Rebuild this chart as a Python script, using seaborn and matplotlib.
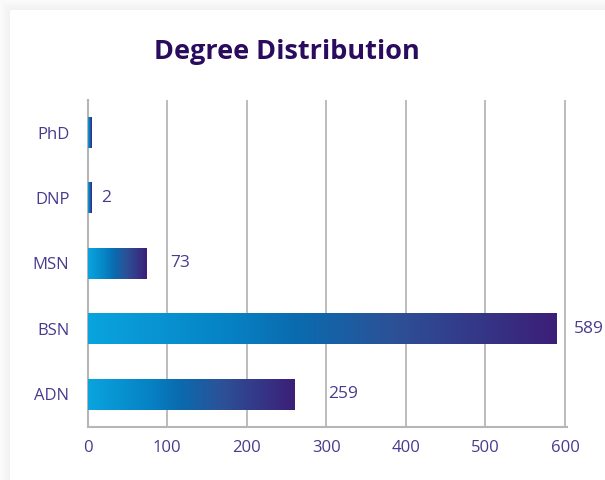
import numpy as np
import pandas as pd
import matplotlib
matplotlib.use('Agg')
import matplotlib.pyplot as plt
import seaborn as sns
from matplotlib.colors import LinearSegmentedColormap
from matplotlib.patches import Rectangle

# ---- data ----
categories = ['PhD', 'DNP', 'MSN', 'BSN', 'ADN']
counts = [1, 2, 73, 589, 259]
value_labels = ['', '2', '73', '589', '259']
x_ticks = [0, 100, 200, 300, 400, 500, 600]
title = 'Degree Distribution'

# ---- style ----
label_offsets_pt = [0, 8.5, 18, 13, 25]
text_color = '#4a3a8e'
grid_color = '#b6b6b6'
grad = LinearSegmentedColormap.from_list(
    'g', [(0.0, '#0aa4de'), (0.3, '#0682c4'), (0.45, '#0b6aae'),
          (0.65, '#2c5197'), (1.0, '#3c1f78')])

sns.set_theme(style='white')
plt.rcParams['font.family'] = ['Open Sans', 'DejaVu Sans']

W, H = 605, 480
fig = plt.figure(figsize=(W / 100, H / 100), dpi=100, facecolor='#fbfbfb')
# soft card shadow
for k in range(9, 0, -1):
    fig.patches.append(Rectangle(((10 - k) / W, 0), 1, (470 + k) / H,
                                 transform=fig.transFigure, facecolor='black',
                                 alpha=0.005, edgecolor='none', zorder=-2))
fig.patches.append(Rectangle((10 / W, 0), 1, 470 / H, transform=fig.transFigure,
                             facecolor='white', edgecolor='none', zorder=-1))

left, right, top, bottom = 87.5, 567.0, 100.0, 427.0
ax = fig.add_axes([left / W, 1 - bottom / H, (right - left) / W, (bottom - top) / H])
ax.set_zorder(5)
ax.patch.set_alpha(0)

df = pd.DataFrame({'Degree': categories, 'Count': counts})
sns.barplot(data=df, x='Count', y='Degree', orient='h', width=0.47,
            color='white', ax=ax, zorder=3)

xmax = 600 * (right - left) / (565.0 - left)
ax.set_xlim(0, xmax)
ax.set_ylim(4.5, -0.5)

g = np.linspace(0, 1, 256).reshape(1, -1)
for i, p in enumerate(list(ax.patches)):
    x0, y0 = p.get_x(), p.get_y()
    w, h = p.get_width(), p.get_height()
    p.set_visible(False)
    x1 = max(x0 + w, x0 + 4)
    ax.imshow(g, cmap=grad, aspect='auto', extent=[x0, x1, y0 + h, y0],
              zorder=3, interpolation='bilinear')
    if value_labels[i]:
        ax.annotate(value_labels[i], xy=(x0 + w, y0 + h / 2),
                    xytext=(label_offsets_pt[i], 0), textcoords='offset points',
                    ha='left', va='center', fontsize=12.5, color=text_color,
                    annotation_clip=False, zorder=4)

ax.set_xlim(0, xmax)
ax.set_ylim(4.5, -0.5)
ax.set_xticks(x_ticks)
ax.set_xticklabels([str(t) for t in x_ticks])
ax.set_xlabel('')
ax.set_ylabel('')
ax.xaxis.grid(True, color=grid_color, linewidth=1.3)
ax.yaxis.grid(False)
ax.set_axisbelow(True)
for s in ['top', 'right']:
    ax.spines[s].set_visible(False)
for s in ['left', 'bottom']:
    ax.spines[s].set_color(grid_color)
    ax.spines[s].set_linewidth(1.5)
ax.tick_params(axis='x', length=0, pad=9, labelsize=12, labelcolor=text_color)
ax.tick_params(axis='y', which='major', length=0, pad=13, labelsize=12,
               labelcolor=text_color)
ax.set_yticks(np.arange(-0.5, 5.0, 1.0), minor=True)
ax.tick_params(axis='y', which='minor', length=5, width=1.3, color=grid_color,
               direction='out')

fig.text(287 / W, 1 - 52 / H, title, ha='center', va='center', fontsize=19.5,
         fontweight='bold', color='#2a0b5e')

fig.savefig('out.png', dpi=100, facecolor=fig.get_facecolor())
